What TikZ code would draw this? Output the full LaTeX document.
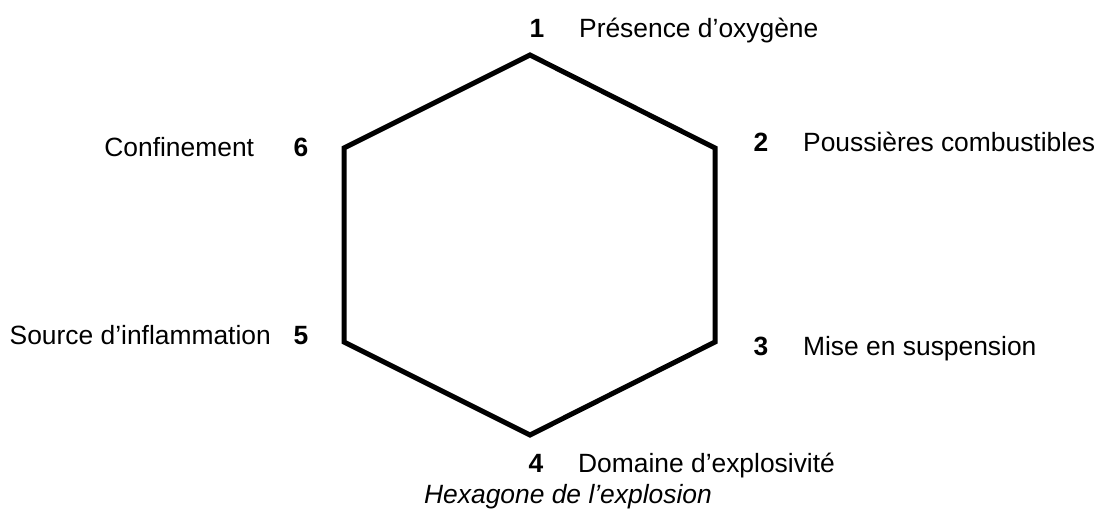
\documentclass[tikz,border=0pt]{standalone}
\usepackage{fontspec}
\setmainfont{Liberation Sans}
\usetikzlibrary{positioning}

\begin{document}
\begin{tikzpicture}[x=0.5pt, y=-0.5pt,
        numero/.style={inner sep=0pt, font=\fontsize{13.2}{16}\selectfont\bfseries},
        texte/.style={inner sep=0pt, font=\fontsize{13.2}{16}\selectfont},
        hexa/.style={draw, line width=2.5pt, line join=miter}
    ]
    \useasboundingbox (0,0) rectangle (1100,511);

    % Sommets de l'hexagone
    \coordinate (s1) at (530,55);
    \coordinate (s2) at (715,148);
    \coordinate (s3) at (715,342);
    \coordinate (s4) at (530,435);
    \coordinate (s5) at (344,342);
    \coordinate (s6) at (344,148);
    \draw[hexa] (s1) -- (s2) -- (s3) -- (s4) -- (s5) -- (s6) -- cycle;

    % Facteurs a droite
    \node[numero, anchor=base] (n1) at (537,37) {1};
    \node[texte, base right=17pt of n1] (t1) {Présence d’oxygène};
    \node[numero, anchor=base] (n2) at (761,151) {2};
    \node[texte, base right=17pt of n2] (t2) {Poussières combustibles};
    \node[numero, anchor=base] (n3) at (761,355) {3};
    \node[texte, base right=17pt of n3] (t3) {Mise en suspension};
    \node[numero, anchor=base] (n4) at (536,472) {4};
    \node[texte, base right=17pt of n4] (t4) {Domaine d’explosivité};

    % Facteurs a gauche
    \node[numero, anchor=base] (n5) at (301,344) {5};
    \node[texte, base left=11pt of n5] (t5) {Source d’inflammation};
    \node[numero, anchor=base] (n6) at (301,156) {6};
    \node[texte, base left=19.4pt of n6] (t6) {Confinement};

    % Titre
    \node[texte, font=\fontsize{13.2}{16}\selectfont\itshape, anchor=base] (titre) at (568,503) {Hexagone de l’explosion};

\end{tikzpicture}
\end{document}
